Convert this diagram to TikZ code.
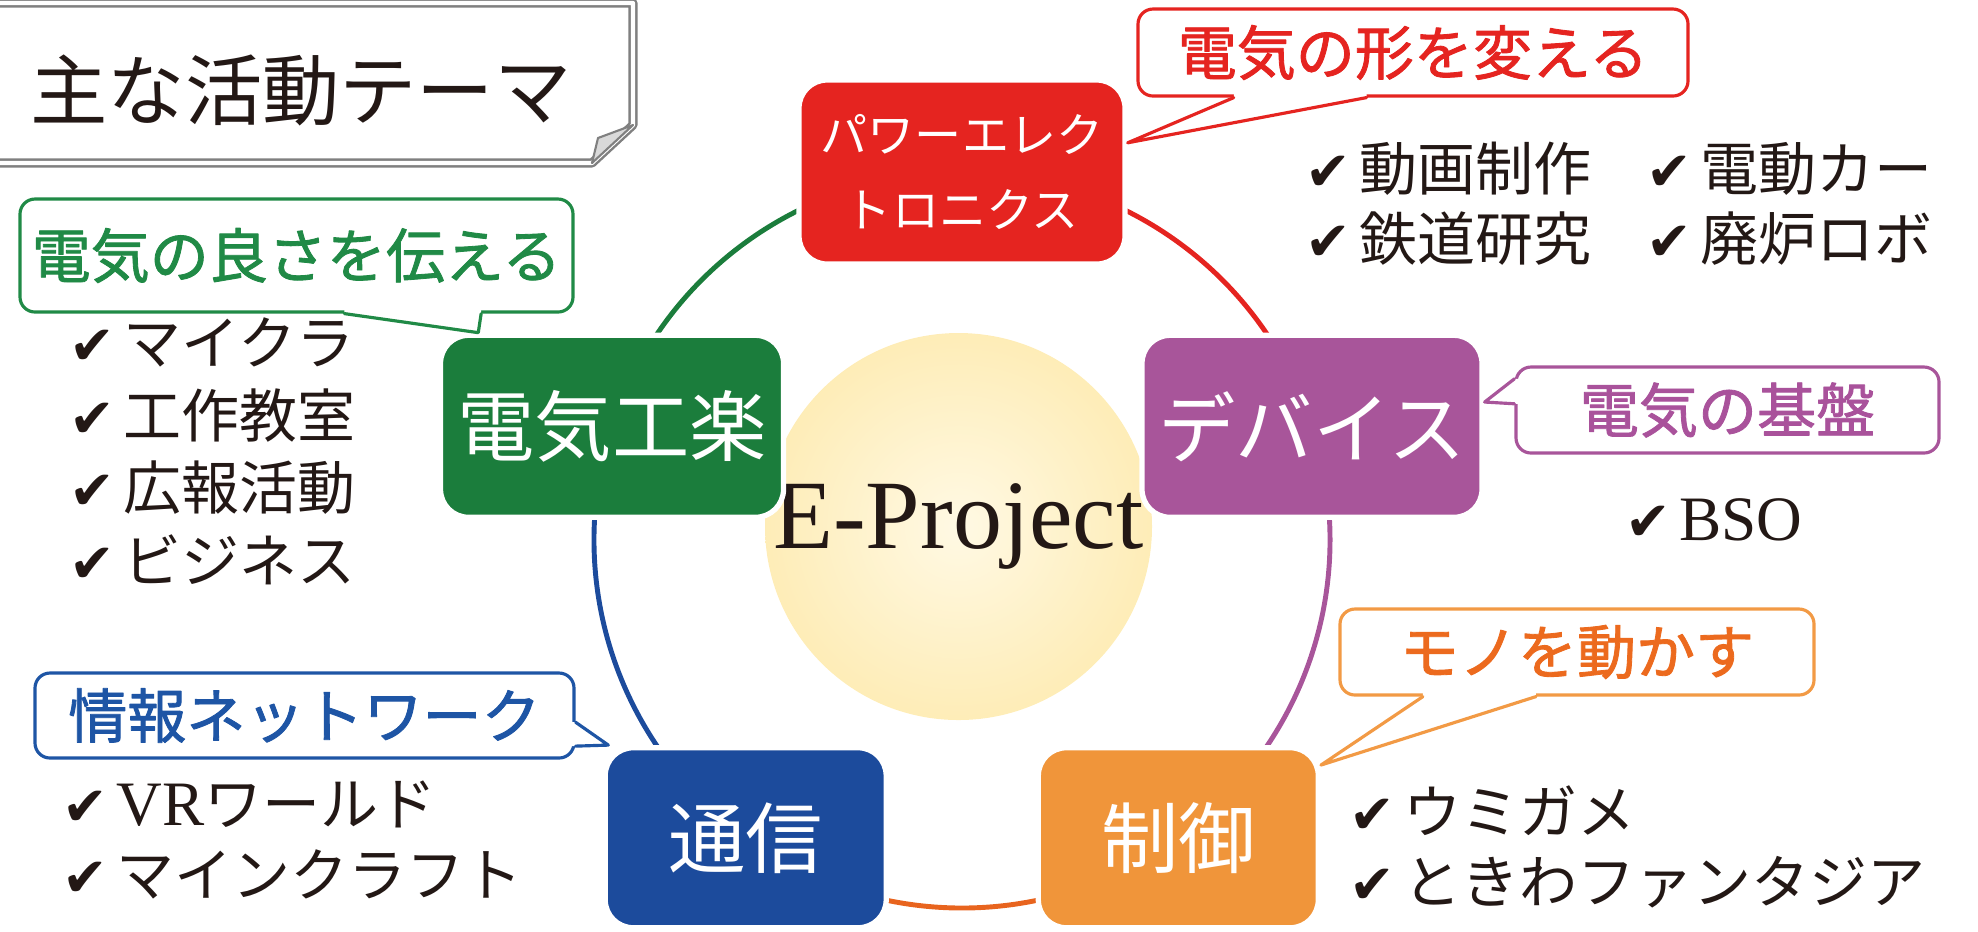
\documentclass[tikz,border=0pt]{standalone}
\usepackage{fontspec}
\setmainfont{Liberation Serif}
\newfontfamily\jp{Noto Sans CJK JP}
\newfontfamily\jpmed{Noto Sans CJK JP}[FakeBold=1.4]
\newfontfamily\sym{DejaVu Sans}
\usetikzlibrary{calc,positioning}
\pgfdeclarelayer{background}
\pgfsetlayers{background,main}

\definecolor{peRed}{HTML}{E52420}
\definecolor{kouraku}{HTML}{1B7D3C}
\definecolor{kourakuText}{HTML}{208A46}
\definecolor{device}{HTML}{A8559A}
\definecolor{deviceText}{HTML}{A9529B}
\definecolor{tsushin}{HTML}{1C4B9C}
\definecolor{tsushinText}{HTML}{1E55A5}
\definecolor{seigyo}{HTML}{F0953A}
\definecolor{seigyoEdge}{HTML}{F29A45}
\definecolor{seigyoText}{HTML}{EC6A1E}
\definecolor{seigyoLine}{HTML}{E8641E}
\definecolor{glowIn}{HTML}{FFF9E4}
\definecolor{glowMid}{HTML}{FEEDB9}
\definecolor{glowOut}{HTML}{FDE08C}
\definecolor{ink}{HTML}{231815}

\pgfdeclareradialshading{coreglow}{\pgfpoint{0bp}{0bp}}{color(0bp)=(glowIn); color(24bp)=(glowMid); color(49bp)=(glowOut); color(60bp)=(glowOut)}

\newcommand{\chkmk}{{\sym\fontsize{15.5}{16}\selectfont ✔}\hspace{0.08cm}}
\newcommand{\latin}[1]{{\rmfamily\fontsize{18}{20}\selectfont #1}}
% tail of a speech bubble: colour, base a, base b, tip, inward shift
\newcommand{\calloutTail}[5]{%
    \fill[white] (#2) -- (#4) -- (#3) -- ($(#3)+(#5)$) -- ($(#2)+(#5)$) -- cycle;
    \draw[#1, line width=0.9pt] (#2) -- (#4) -- (#3);}

\begin{document}
\begin{tikzpicture}[line cap=round,line join=round,
    theme/.style={rectangle, rounded corners=0.28cm, draw=white, line width=1.5pt, text=white, inner sep=0pt, font=\jp\fontsize{22}{26}\selectfont},
    ring/.style={line width=1.4pt},
    callout/.style={rectangle, rounded corners=0.15cm, draw, fill=white, line width=0.9pt, inner sep=0pt, font=\jpmed\fontsize{16.8}{20}\selectfont},
    item/.style={anchor=base west, inner sep=0pt, text=ink, font=\jp\fontsize{16.5}{20}\selectfont}]
    \useasboundingbox (0,0) rectangle (19.78,-9.31);

    % Title card
    \draw[gray, line width=0.7pt, double=white, double distance=1.2pt, fill=white] (-0.2,-0.03) -- (6.33,-0.03) -- (6.33,-1.25) -- (5.92,-1.63) -- (-0.2,-1.63) -- cycle;
    \filldraw[fill=black!15, draw=gray, line width=0.6pt] (6.33,-1.25) -- (5.92,-1.63) -- (5.98,-1.38) -- cycle;
    \node[text=ink, font=\jp\fontsize{22}{26}\selectfont] (title) at (3.01,-0.90) {主な活動テーマ};

    % Hub
    \coordinate (hub) at (9.62,-5.40);
    \node[circle, minimum size=3.87cm, shade, shading=coreglow, inner sep=0pt, text=ink, font=\fontsize{27.9}{30}\selectfont] (core) at (9.585,-5.265) {E-Project};

    % Themes round the hub
    \node[theme, fill=peRed, minimum width=3.26cm, minimum height=1.84cm, align=center, font=\jp\fontsize{13.4}{21.3}\selectfont] (pe) at ($(hub)+(90:3.68)$) {パワーエレク\\トロニクス};
    \node[theme, fill=kouraku, minimum width=3.43cm, minimum height=1.82cm] (kr) at ($(hub)+(162:3.68)$) {電気工楽};
    \node[theme, fill=device, minimum width=3.40cm, minimum height=1.82cm] (dv) at ($(hub)+(18:3.68)$) {デバイス};
    \node[theme, fill=tsushin, minimum width=2.81cm, minimum height=1.80cm] (ts) at ($(hub)+(234:3.68)$) {通信};
    \node[theme, fill=seigyo, minimum width=2.80cm, minimum height=1.80cm] (sg) at ($(hub)+(306:3.68)$) {制御};

    % Ring, behind the themes
    \begin{pgfonlayer}{background}
        \foreach \source/\from/\to/\col in {kr/162/90/kouraku, pe/90/18/peRed, dv/18/-54/device, sg/-54/-126/seigyoLine, ts/234/162/tsushin} {
                \draw[ring, \col] (\source.center) arc[start angle=\from, end angle=\to, radius=3.68];
            }
    \end{pgfonlayer}

    % Speech bubbles
    \node[callout, draw=peRed, text=peRed, minimum width=5.50cm, minimum height=0.87cm] (cpe) at (14.13,-0.525) {電気の形を変える};
    \node[callout, draw=device, text=deviceText, minimum width=4.23cm, minimum height=0.86cm] (cdv) at (17.275,-4.10) {電気の基盤};
    \node[callout, draw=kourakuText, text=kourakuText, minimum width=5.53cm, minimum height=1.13cm] (ckr) at (2.965,-2.555) {電気の良さを伝える};
    \node[callout, draw=tsushinText, text=tsushinText, minimum width=5.39cm, minimum height=0.85cm] (cts) at (3.045,-7.155) {情報ネットワーク};
    \node[callout, draw=seigyoEdge, text=seigyoText, minimum width=4.74cm, minimum height=0.86cm] (csg) at (15.77,-6.52) {モノを動かす};

    \coordinate (cpe-a) at ($(cpe.south west)!0.176!(cpe.south east)$);
    \coordinate (cpe-b) at ($(cpe.south west)!0.416!(cpe.south east)$);
    \coordinate (cdv-a) at ($(cdv.north west)!0.15!(cdv.south west)$);
    \coordinate (cdv-b) at ($(cdv.north west)!0.43!(cdv.south west)$);
    \coordinate (ckr-a) at ($(ckr.south west)!0.586!(ckr.south east)$);
    \coordinate (ckr-b) at ($(ckr.south west)!0.832!(ckr.south east)$);
    \coordinate (cts-a) at ($(cts.north east)!0.576!(cts.south east)$);
    \coordinate (cts-b) at ($(cts.north east)!0.847!(cts.south east)$);
    \coordinate (csg-a) at ($(csg.south west)!0.177!(csg.south east)$);
    \coordinate (csg-b) at ($(csg.south west)!0.414!(csg.south east)$);

    \calloutTail{peRed}{cpe-a}{cpe-b}{pe.10}{0,0.05}
    \calloutTail{device}{cdv-a}{cdv-b}{dv.8}{0.05,0}
    \calloutTail{kourakuText}{ckr-a}{ckr-b}{kr.145}{0,0.05}
    \calloutTail{tsushinText}{cts-a}{cts-b}{ts.146}{-0.05,0}
    \calloutTail{seigyoEdge}{csg-a}{csg-b}{sg.27}{0,0.05}

    % Check lists
    \node[item] (pe1) at (13.05,-1.90) {\chkmk 動画制作};
    \node[item] (pe2) at (13.05,-2.60) {\chkmk 鉄道研究};
    \node[item] (pe3) at (16.46,-1.90) {\chkmk 電動カー};
    \node[item] (pe4) at (16.46,-2.60) {\chkmk 廃炉ロボ};
    \node[item] (dv1) at (16.25,-5.40) {\chkmk\latin{BSO}};
    \foreach \t [count=\i] in {マイクラ,工作教室,広報活動,ビジネス} {
            \node[item] (kr\i) at (0.69,-2.92-0.725*\i) {\chkmk\t};
        }
    \node[item] (ts1) at (0.62,-8.25) {\chkmk\latin{VR}ワールド};
    \node[item] (ts2) at (0.62,-8.96) {\chkmk マインクラフト};
    \node[item] (sg1) at (13.49,-8.33) {\chkmk ウミガメ};
    \node[item] (sg2) at (13.49,-9.03) {\chkmk ときわファンタジア};
\end{tikzpicture}
\end{document}
